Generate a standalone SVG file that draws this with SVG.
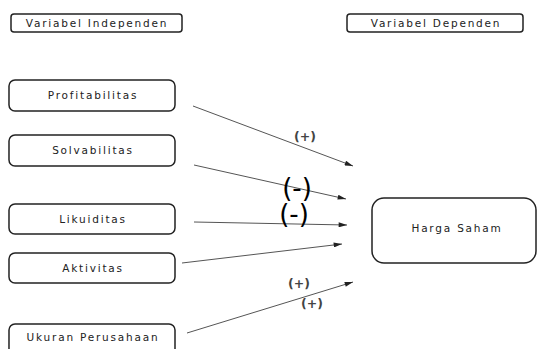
<svg xmlns="http://www.w3.org/2000/svg" width="537" height="349" viewBox="0 0 537 349">
<style>
.box{fill:#fff;stroke:#222;stroke-width:1.5}
.t{font-family:"DejaVu Sans",sans-serif;font-size:10.5px;fill:#222;text-anchor:middle;letter-spacing:1.8px}
.ln{stroke:#555;stroke-width:1;fill:none;marker-end:url(#ah)}
.sgn{font-family:"DejaVu Sans",sans-serif;font-weight:bold;fill:#444;text-anchor:middle}
.neg{font-family:"DejaVu Sans",sans-serif;fill:#000;text-anchor:middle}
</style>
<defs>
<marker id="ah" viewBox="0 0 10 6" refX="10" refY="3" markerWidth="9" markerHeight="5" markerUnits="userSpaceOnUse" orient="auto">
<path d="M0,0 L10,3 L0,6 Z" fill="#222"/>
</marker>
</defs>
<rect width="537" height="349" fill="#fff"/>
<g id="hdr-independen"><rect class="box" x="11" y="14" width="171" height="18" rx="3"/><text class="t" x="97" y="27">Variabel Independen</text></g>
<g id="hdr-dependen"><rect class="box" x="347" y="14" width="176" height="18" rx="3"/><text class="t" x="436" y="27">Variabel Dependen</text></g>
<g id="profitabilitas"><rect class="box" x="9" y="80" width="166" height="31" rx="6"/><text class="t" x="93" y="98.5">Profitabilitas</text></g>
<g id="solvabilitas"><rect class="box" x="9" y="135" width="166" height="31" rx="6"/><text class="t" x="93" y="153.5">Solvabilitas</text></g>
<g id="likuiditas"><rect class="box" x="9" y="204" width="166" height="30" rx="6"/><text class="t" x="93" y="222.5">Likuiditas</text></g>
<g id="aktivitas"><rect class="box" x="9" y="253" width="166" height="30" rx="6"/><text class="t" x="93" y="271.5">Aktivitas</text></g>
<g id="ukuran"><rect class="box" x="9" y="324" width="166" height="35" rx="6"/><text class="t" x="93" y="341">Ukuran Perusahaan</text></g>
<g id="harga-saham"><rect class="box" x="372" y="198" width="164" height="65" rx="12"/><text class="t" x="457" y="232">Harga Saham</text></g>
<g id="connectors">
<line class="ln" x1="193" y1="106" x2="353" y2="166"/>
<line class="ln" x1="194" y1="165" x2="346" y2="199"/>
<line class="ln" x1="194" y1="222" x2="347" y2="225"/>
<line class="ln" x1="182" y1="263" x2="342" y2="244"/>
<line class="ln" x1="187" y1="333" x2="353" y2="282"/>
</g>
<g id="labels">
<text class="sgn" x="305" y="141" font-size="12.5">(+)</text>
<text class="neg" x="297" y="197" font-size="26">(-)</text>
<text class="neg" x="294" y="223" font-size="26">(-)</text>
<text class="sgn" x="299" y="288" font-size="12.5">(+)</text>
<text class="sgn" x="312" y="308" font-size="12.5">(+)</text>
</g>
</svg>
